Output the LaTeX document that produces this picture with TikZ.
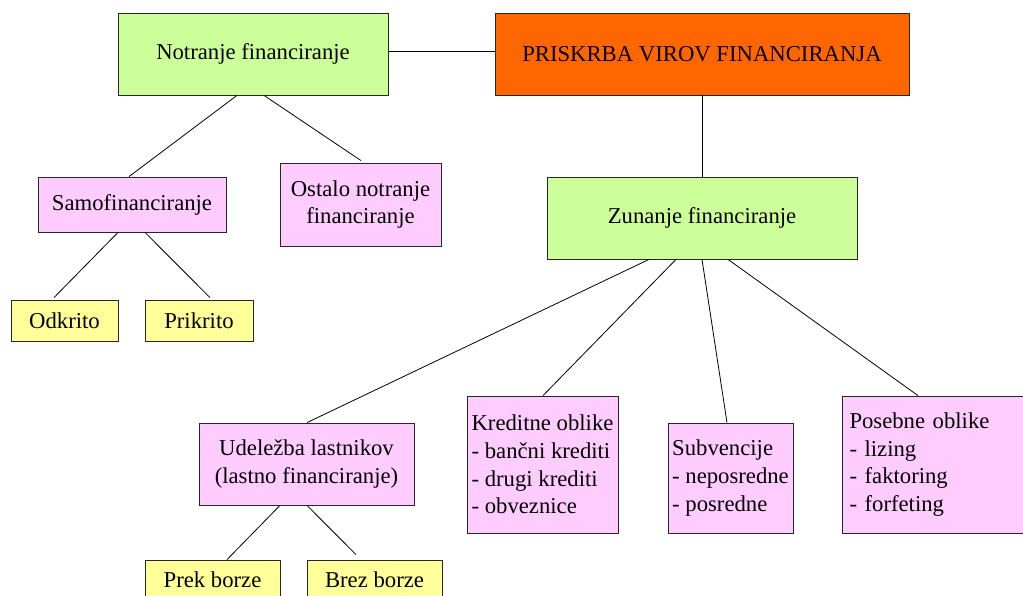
\documentclass[tikz,border=0pt]{standalone}
\usepackage{fontspec}
\setmainfont{Liberation Serif}
\definecolor{cgreen}{HTML}{CCFF99}
\definecolor{corange}{HTML}{FF6600}
\definecolor{cpink}{HTML}{FFCCFF}
\definecolor{cyellow}{HTML}{FFFF99}
\begin{document}
\begin{tikzpicture}[x=1pt,y=-1pt,
  box/.style={draw=black!85,line width=0.8pt,inner sep=0pt,font=\fontsize{22.7}{27.8}\selectfont,align=center},
  gbox/.style={box,fill=cgreen},
  obox/.style={box,fill=corange},
  pbox/.style={box,fill=cpink},
  lbox/.style={box,fill=cpink,align=left},
  ybox/.style={box,fill=cyellow},
  conn/.style={draw=black,line width=0.8pt}]
\useasboundingbox (0,0) rectangle (1023,595);
\node[gbox,minimum width=270pt,minimum height=82pt] (notr) at (253,54) {Notranje financiranje};
\node[obox,minimum width=414pt,minimum height=82pt] (pris) at (702,54) {PRISKRBA VIROV FINANCIRANJA};
\node[pbox,minimum width=188pt,minimum height=55pt] (samo) at (132,204.5) {Samofinanciranje};
\node[pbox,minimum width=161pt,minimum height=83pt] (ost) at (360.5,204.5) {Ostalo notranje\\financiranje};
\node[gbox,minimum width=310pt,minimum height=82pt] (zun) at (702,218) {Zunanje financiranje};
\node[ybox,minimum width=107pt,minimum height=41pt] (odk) at (64.5,320.5) {Odkrito};
\node[ybox,minimum width=108pt,minimum height=41pt] (prik) at (199,320.5) {Prikrito};
\node[pbox,minimum width=215pt,minimum height=82pt] (ude) at (306.5,464) {Udeležba lastnikov\\(lastno financiranje)};
\node[lbox,minimum width=151pt,minimum height=137pt] (kred) at (542.5,464.5) {Kreditne oblike\\- bančni krediti\\- drugi krediti\\- obveznice};
\node[lbox,minimum width=125pt,minimum height=110pt] (subv) at (730.5,478) {Subvencije\\- neposredne\\- posredne};
\node[lbox,inner xsep=7.5pt,text width=170pt,minimum height=137pt] (pos) at (934.5,464.5) {Posebne oblike\\- lizing\\- faktoring\\- forfeting};
\node[ybox,minimum width=135pt,minimum height=40pt] (prek) at (212.5,580) {Prek borze};
\node[ybox,minimum width=135pt,minimum height=40pt] (brez) at (374.5,580) {Brez borze};
\draw[conn] ([yshift=3pt]notr.east) -- ([yshift=3pt]pris.west);
\draw[conn] ([xshift=-16pt]notr.south) -- ([xshift=-3pt]samo.north);
\draw[conn] ([xshift=11pt]notr.south) -- ([xshift=0.5pt,yshift=2pt]ost.north);
\draw[conn] (pris.south) -- (zun.north);
\draw[conn] ([xshift=-14pt]samo.south) -- ([xshift=-10.5pt,yshift=2pt]odk.north);
\draw[conn] ([xshift=13pt]samo.south) -- ([xshift=11pt,yshift=2pt]prik.north);
\draw[conn] ([xshift=-53pt]zun.south) -- ([xshift=0.5pt]ude.north);
\draw[conn] ([xshift=-26pt]zun.south) -- ([xshift=0.5pt]kred.north);
\draw[conn] (zun.south) -- ([xshift=-3.5pt]subv.north);
\draw[conn] ([xshift=26pt]zun.south) -- ([xshift=-16.5pt]pos.north);
\draw[conn] ([xshift=-26.5pt]ude.south) -- ([xshift=14.5pt]prek.north);
\draw[conn] ([xshift=0.5pt]ude.south) -- ([xshift=-18.5pt,yshift=5pt]brez.north);
\end{tikzpicture}
\end{document}
